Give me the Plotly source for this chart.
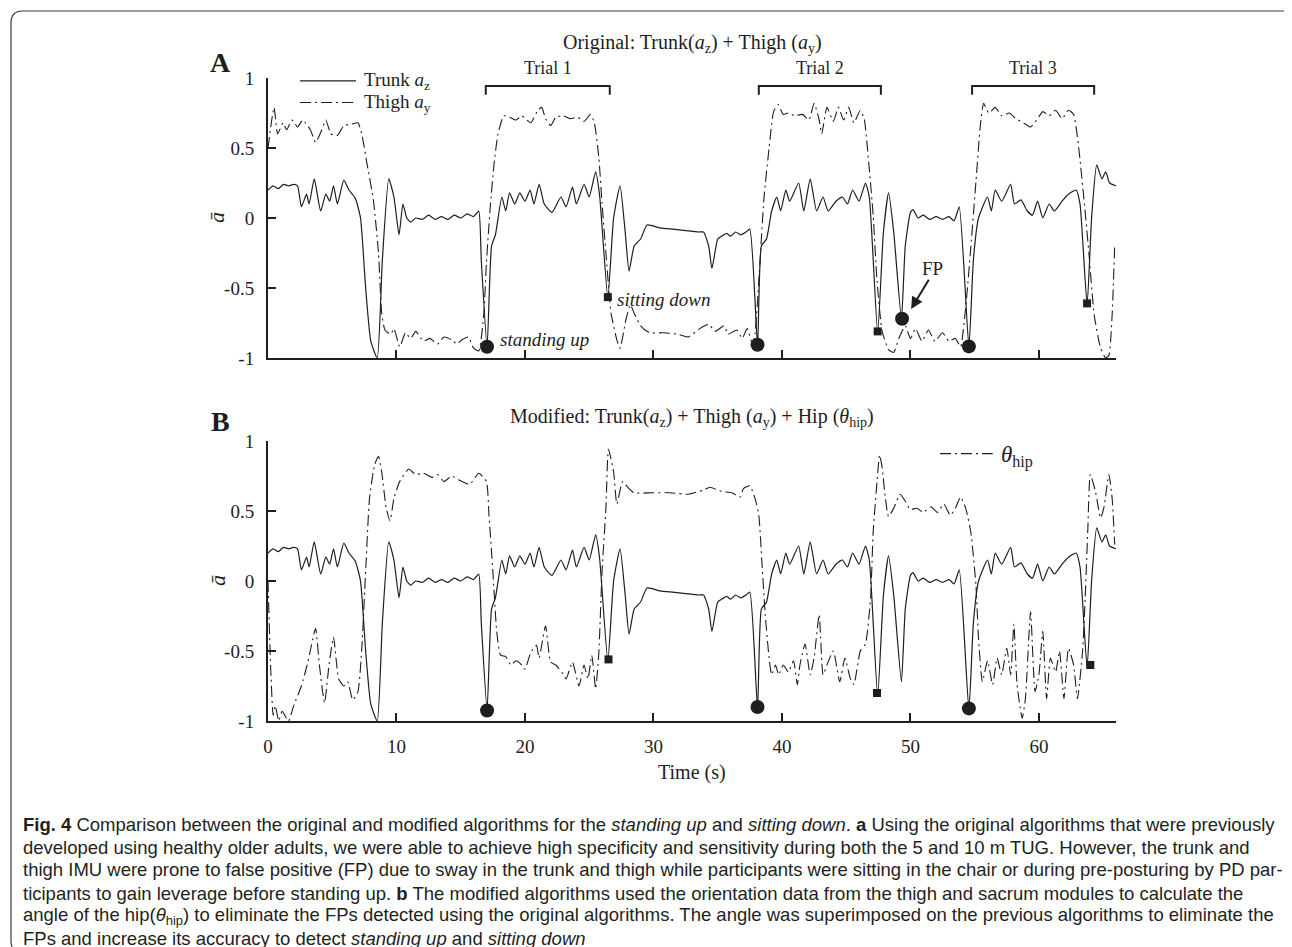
import plotly.graph_objects as go

# ---------------- data ----------------
trunk_t = [0, 0.4, 0.8, 1.2, 1.6, 2.0, 2.3, 2.6, 3.0, 3.2, 3.6, 4.1, 4.5, 4.8, 5.1, 5.4, 5.9, 6.3, 6.8,
           7.2, 7.6, 8.0, 8.5, 8.9, 9.4, 9.8, 10.2, 10.5, 10.8, 11.1, 11.5, 12.0, 12.5, 13.0, 13.5, 14.0,
           14.5, 15.0, 15.5, 16.0, 16.4, 16.6, 17.05, 17.4, 17.7, 18.2, 18.5, 18.8, 19.2, 19.6, 20.0, 20.4,
           20.7, 21.1, 21.5, 22.1, 22.8, 23.2, 23.7, 24.0, 24.6, 25.0, 25.5, 25.8, 26.45, 26.9, 27.4, 27.8,
           28.1, 28.5, 29.0, 29.5, 30.5, 31.5, 32.5, 33.5, 33.9, 34.3, 34.55, 35.0, 35.3, 35.7, 36.0, 36.4,
           36.8, 37.2, 37.5, 38.1, 38.4, 38.8, 39.2, 39.6, 39.9, 40.3, 40.6, 41.3, 41.7, 42.2, 42.7, 43.2,
           43.6, 44.2, 44.7, 45.1, 45.5, 46.0, 46.5, 46.8, 47.45, 47.9, 48.3, 48.7, 49.3, 49.6, 50.0, 50.2,
           50.6, 51.0, 51.5, 52.0, 52.5, 53.0, 53.4, 53.8, 54.55, 54.9, 55.3, 56.0, 56.3, 56.6, 57.1, 57.8,
           58.1, 58.6, 59.1, 59.5, 59.9, 60.3, 60.8, 61.2, 61.8, 62.3, 62.9, 63.2, 63.75, 64.1, 64.5, 64.9,
           65.2, 65.5, 66.0]
trunk_v = [0.20, 0.23, 0.21, 0.24, 0.23, 0.24, 0.23, 0.08, 0.17, 0.10, 0.28, 0.05, 0.17, 0.12, 0.23, 0.10,
           0.27, 0.20, 0.14, 0.0, -0.5, -0.88, -1.0, -0.3, 0.28, 0.15, -0.12, 0.10, 0.0, -0.03, 0.0, -0.01,
           0.02, -0.01, 0.01, -0.01, 0.02, 0.0, 0.03, 0.01, 0.05, -0.3, -0.92, -0.2, -0.12, 0.15, 0.05,
           0.18, 0.10, 0.18, 0.12, 0.20, 0.10, 0.24, 0.10, 0.04, 0.15, 0.08, 0.22, 0.10, 0.24, 0.15, 0.33,
           0.17, -0.57, 0.0, 0.23, -0.1, -0.38, -0.2, -0.15, -0.05, -0.07, -0.08, -0.09, -0.10, -0.10, -0.2,
           -0.36, -0.15, -0.13, -0.11, -0.13, -0.10, -0.12, -0.10, -0.08, -0.91, -0.2, -0.15, 0.05, 0.15,
           0.05, 0.20, 0.12, 0.25, 0.05, 0.28, 0.05, 0.15, 0.05, 0.12, 0.15, 0.10, 0.20, 0.12, 0.25, 0.15,
           -0.82, -0.1, 0.18, -0.1, -0.72, -0.2, 0.04, 0.06, 0.0, 0.02, -0.01, 0.01, -0.01, 0.01, -0.02,
           0.08, -0.92, -0.3, 0.0, 0.15, 0.05, 0.20, 0.12, 0.24, 0.10, 0.13, 0.05, 0.02, 0.12, 0.0, 0.10,
           0.05, 0.12, 0.17, 0.20, 0.10, -0.62, 0.0, 0.38, 0.28, 0.33, 0.25, 0.23]

thigh_t = [0, 0.47, 0.75, 1.17, 1.45, 1.87, 2.3, 2.7, 3.3, 3.7, 4.1, 4.5, 4.9, 5.4, 5.9, 6.5, 7.0, 7.3,
           7.7, 8.2, 8.6, 8.85, 9.1, 9.55, 9.8, 10.25, 10.7, 11.1, 11.5, 12.1, 12.6, 13.2, 13.7, 14.3,
           14.7, 15.1, 15.6, 16.0, 16.4, 16.8, 17.0, 17.3, 17.6, 17.9, 18.35, 18.8, 19.3, 19.75, 20.45,
           21.0, 21.3, 21.6, 22.0, 22.4, 23.0, 23.5, 24.1, 24.6, 25.1, 25.4, 25.75, 26.0, 26.3, 26.7,
           27.15, 27.4, 27.85, 28.2, 28.5, 29.0, 29.7, 30.8, 31.9, 32.7, 33.6, 34.3, 34.8, 35.5, 35.8,
           36.5, 36.9, 37.3, 37.7, 37.9, 38.2, 38.6, 39.0, 39.35, 39.7, 40.1, 40.5, 41.0, 41.6, 42.1,
           42.5, 42.9, 43.1, 43.5, 44.0, 44.4, 44.8, 45.2, 45.6, 46.1, 46.4, 46.75, 47.1, 47.4, 47.8,
           48.3, 48.7, 49.1, 49.6, 50.0, 50.4, 50.9, 51.4, 51.9, 52.5, 53.0, 53.5, 53.9, 54.3, 54.7,
           55.1, 55.45, 55.7, 56.1, 56.6, 57.1, 57.7, 58.2, 58.8, 59.35, 59.9, 60.3, 60.8, 61.3, 61.8,
           62.3, 62.7, 63.1, 63.5, 63.9, 64.3, 64.8, 65.2, 65.45, 65.7, 65.9]
thigh_v = [0.5, 0.79, 0.6, 0.68, 0.63, 0.7, 0.65, 0.7, 0.63, 0.54, 0.61, 0.7, 0.6, 0.59, 0.66, 0.67,
           0.68, 0.6, 0.39, 0.13, -0.25, -0.68, -0.8, -0.83, -0.79, -0.92, -0.82, -0.86, -0.81, -0.88,
           -0.86, -0.9, -0.85, -0.87, -0.9, -0.87, -0.85, -0.93, -0.95, -0.68, -0.32, 0.08, 0.39, 0.6,
           0.73, 0.72, 0.7, 0.73, 0.68, 0.77, 0.79, 0.71, 0.66, 0.72, 0.73, 0.71, 0.72, 0.69, 0.74, 0.68,
           0.43, 0.1, -0.25, -0.68, -0.87, -0.93, -0.73, -0.62, -0.68, -0.77, -0.82, -0.82, -0.83, -0.85,
           -0.79, -0.76, -0.81, -0.77, -0.83, -0.8, -0.86, -0.79, -0.9, -0.83, -0.45, 0.14, 0.5, 0.76,
           0.81, 0.74, 0.75, 0.73, 0.74, 0.7, 0.82, 0.7, 0.6, 0.79, 0.69, 0.79, 0.7, 0.79, 0.68, 0.77,
           0.71, 0.4, 0.02, -0.45, -0.81, -0.94, -0.96, -0.86, -0.77, -0.86, -0.79, -0.88, -0.8, -0.88,
           -0.82, -0.88, -0.86, -0.92, -0.64, -0.21, 0.26, 0.67, 0.82, 0.75, 0.79, 0.73, 0.75, 0.71,
           0.68, 0.65, 0.71, 0.76, 0.73, 0.77, 0.71, 0.77, 0.74, 0.5, 0.14, -0.26, -0.69, -0.93, -1.0,
           -0.98, -0.69, -0.19]

hip_t = [0, 0.2, 0.4, 0.56, 0.84, 1.1, 1.6, 2.0, 2.6, 3.1, 3.7, 4.0, 4.4, 4.75, 5.1, 5.5, 5.9, 6.2,
         6.6, 7.0, 7.3, 7.6, 7.9, 8.3, 8.6, 8.85, 9.2, 9.5, 9.8, 10.25, 10.95, 11.5, 12.1, 12.8, 13.2,
         13.7, 14.3, 14.9, 15.7, 16.4, 17.0, 17.2, 17.5, 17.8, 18.1, 18.5, 18.9, 19.3, 19.75, 20.0,
         20.45, 20.9, 21.1, 21.6, 22.0, 22.4, 23.0, 23.2, 23.7, 24.2, 24.6, 24.9, 25.2, 25.5, 25.75,
         26.0, 26.3, 26.5, 26.9, 27.15, 27.6, 28.0, 28.5, 29.9, 31.3, 32.7, 33.9, 34.4, 35.3, 36.1,
         36.75, 37.0, 37.5, 37.9, 38.2, 38.45, 38.7, 39.0, 39.2, 39.5, 39.75, 40.1, 40.5, 40.9, 41.2,
         41.4, 41.8, 42.2, 42.5, 42.9, 43.2, 43.5, 44.0, 44.5, 44.9, 45.3, 45.6, 46.1, 46.5, 46.9,
         47.1, 47.4, 47.6, 47.8, 48.05, 48.3, 48.7, 49.2, 49.6, 50.0, 50.5, 51.0, 51.6, 52.1, 52.6,
         53.1, 53.5, 53.9, 54.3, 54.7, 55.1, 55.3, 55.6, 56.0, 56.4, 56.75, 57.1, 57.5, 57.8, 58.05,
         58.3, 58.7, 58.95, 59.35, 59.7, 60.0, 60.3, 60.6, 60.9, 61.3, 61.6, 61.95, 62.3, 62.7, 63.0,
         63.4, 63.6, 63.8, 64.0, 64.4, 64.8, 65.05, 65.45, 65.7, 65.9]
hip_v = [0.0, -0.6, -0.96, -0.89, -1.0, -0.93, -1.0, -0.89, -0.75, -0.58, -0.34, -0.6, -0.87, -0.6,
         -0.4, -0.7, -0.75, -0.72, -0.85, -0.79, -0.48, 0.07, 0.59, 0.83, 0.89, 0.78, 0.52, 0.43, 0.59,
         0.71, 0.8, 0.76, 0.77, 0.74, 0.76, 0.71, 0.75, 0.72, 0.69, 0.77, 0.71, 0.47, 0.07, -0.36, -0.53,
         -0.54, -0.6, -0.57, -0.6, -0.63, -0.51, -0.46, -0.55, -0.32, -0.58, -0.6, -0.67, -0.7, -0.58,
         -0.75, -0.6, -0.7, -0.53, -0.77, -0.51, 0.07, 0.52, 0.94, 0.78, 0.55, 0.71, 0.67, 0.63, 0.63,
         0.63, 0.62, 0.65, 0.67, 0.64, 0.63, 0.6, 0.66, 0.68, 0.59, 0.47, 0.12, -0.24, -0.55, -0.67,
         -0.6, -0.67, -0.6, -0.65, -0.57, -0.74, -0.6, -0.45, -0.67, -0.55, -0.24, -0.67, -0.6, -0.5,
         -0.72, -0.55, -0.69, -0.74, -0.5, -0.45, -0.12, 0.35, 0.71, 0.9, 0.81, 0.59, 0.46, 0.52, 0.62,
         0.57, 0.51, 0.52, 0.49, 0.53, 0.49, 0.55, 0.47, 0.52, 0.6, 0.52, 0.35, -0.03, -0.41, -0.72,
         -0.57, -0.74, -0.55, -0.67, -0.48, -0.67, -0.31, -0.74, -0.98, -0.84, -0.22, -0.79, -0.67,
         -0.36, -0.84, -0.55, -0.65, -0.5, -0.84, -0.48, -0.6, -0.84, -0.5, -0.12, 0.35, 0.76, 0.64,
         0.45, 0.52, 0.76, 0.59, 0.26]

# detected events
stand_t_A = [17.05, 38.1, 54.55]
stand_v_A = [-0.92, -0.905, -0.917]
sit_t_A = [26.45, 47.45, 63.75]
sit_v_A = [-0.565, -0.81, -0.61]
fp_t = [49.35]
fp_v = [-0.72]
stand_t_B = [17.05, 38.1, 54.55]
stand_v_B = [-0.925, -0.9, -0.91]
sit_t_B = [26.5, 47.4, 64.0]
sit_v_B = [-0.56, -0.8, -0.6]

trial_names = ["Trial 1", "Trial 2", "Trial 3"]
trial_start = [16.95, 38.2, 54.8]
trial_end = [26.6, 47.7, 64.3]

x_ticks = [0, 10, 20, 30, 40, 50, 60]
y_ticks = [-1, -0.5, 0, 0.5, 1]
y_tick_text = ["-1", "-0.5", "0", "0.5", "1"]

# ---------------- layout geometry (pixels) ----------------
W, H = 1292, 947
L, R, T, B = 260, 184, 70, 234
PW, PH = W - L - R, H - T - B


def px(xp):
    return (xp - L) / PW


def py(yp):
    return (H - B - yp) / PH


dom_A = [py(350), 1.0]
dom_B = [0.0, py(433)]

INK = "#1e1e1e"
SERIF = "Liberation Serif, Times New Roman, serif"
SANS = "Liberation Sans, Arial, sans-serif"
DASHDOT = "11px,4px,2px,4px"

fig = go.Figure()


def add_panel(xa, ya, second):
    fig.add_trace(go.Scatter(x=trunk_t, y=trunk_v, mode="lines", xaxis=xa, yaxis=ya,
                             line=dict(color=INK, width=1.2, shape="spline", smoothing=0.5),
                             showlegend=False, hoverinfo="skip"))
    yv = hip_v if second else thigh_v
    tv = hip_t if second else thigh_t
    fig.add_trace(go.Scatter(x=tv, y=yv, mode="lines", xaxis=xa, yaxis=ya,
                             line=dict(color=INK, width=1.1, dash=DASHDOT, shape="spline", smoothing=0.5),
                             showlegend=False, hoverinfo="skip"))
    st, sv = (stand_t_B, stand_v_B) if second else (stand_t_A, stand_v_A)
    qt, qv = (sit_t_B, sit_v_B) if second else (sit_t_A, sit_v_A)
    fig.add_trace(go.Scatter(x=st, y=sv, mode="markers", xaxis=xa, yaxis=ya, cliponaxis=False,
                             marker=dict(symbol="circle", size=14, color=INK), showlegend=False))
    fig.add_trace(go.Scatter(x=qt, y=qv, mode="markers", xaxis=xa, yaxis=ya, cliponaxis=False,
                             marker=dict(symbol="square", size=8, color=INK), showlegend=False))
    if not second:
        fig.add_trace(go.Scatter(x=fp_t, y=fp_v, mode="markers", xaxis=xa, yaxis=ya, cliponaxis=False,
                                 marker=dict(symbol="circle", size=14, color=INK), showlegend=False))


add_panel("x", "y", False)
add_panel("x2", "y2", True)

axis_common = dict(showline=True, linecolor=INK, linewidth=2, ticks="inside", ticklen=8,
                   tickwidth=2, tickcolor=INK, showgrid=False, zeroline=False,
                   tickfont=dict(family=SERIF, size=19, color=INK))

fig.update_layout(
    width=W, height=H,
    margin=dict(l=L, r=R, t=T, b=B),
    paper_bgcolor="white", plot_bgcolor="white",
    xaxis=dict(domain=[0, 1], anchor="y", range=[0, 66], tickvals=x_ticks[1:],
               showticklabels=False, **axis_common),
    yaxis=dict(domain=dom_A, anchor="x", range=[-1, 1], tickvals=y_ticks, ticktext=y_tick_text,
               ticklabelstandoff=8, **axis_common),
    xaxis2=dict(domain=[0, 1], anchor="y2", range=[0, 66], tickvals=x_ticks,
                ticklabelstandoff=7, **axis_common),
    yaxis2=dict(domain=dom_B, anchor="x2", range=[-1, 1], tickvals=y_ticks, ticktext=y_tick_text,
                ticklabelstandoff=8, **axis_common),
)

ann = []
shapes = []


def note(x, y, text, size, xref="paper", yref="paper", xanchor="center", family=SERIF, **kw):
    ann.append(dict(xref=xref, yref=yref, x=x, y=y, text=text, showarrow=False,
                    xanchor=xanchor, yanchor="middle",
                    font=dict(family=family, size=size, color=kw.pop("color", INK)), **kw))


# panel letters and titles
note(px(212), py(55), "<b>A</b>", 28)
note(px(212), py(413), "<b>B</b>", 28)
note(0.5, py(36), "Original: Trunk(<i>a</i><sub>z</sub>) + Thigh (<i>a</i><sub>y</sub>)", 20)
note(0.5, py(409),
     "Modified: Trunk(<i>a</i><sub>z</sub>) + Thigh (<i>a</i><sub>y</sub>) + Hip (<i>θ</i><sub>hip</sub>)", 20)

# y axis titles
for yc in (py(210), py(573)):
    note(px(209), yc, "<i>ā</i>", 22, textangle=-90)

# x axis title
note(0.5, py(764), "Time (s)", 20)

# legend A
shapes.append(dict(type="line", xref="x", yref="y", x0=2.5, x1=6.85, y0=0.98, y1=0.98,
                   line=dict(color=INK, width=1.2)))
shapes.append(dict(type="line", xref="x", yref="y", x0=2.5, x1=6.85, y0=0.825, y1=0.825,
                   line=dict(color=INK, width=1.2, dash=DASHDOT)))
note(7.3, 0.98, "Trunk <i>a</i><sub>z</sub>", 19, xref="x", yref="y", xanchor="left")
note(7.3, 0.825, "Thigh <i>a</i><sub>y</sub>", 19, xref="x", yref="y", xanchor="left")

# legend B
shapes.append(dict(type="line", xref="x2", yref="y2", x0=52.3, x1=56.4, y0=0.91, y1=0.91,
                   line=dict(color=INK, width=1.2, dash=DASHDOT)))
note(56.9, 0.89, "<i>θ</i><sub>hip</sub>", 23, xref="x2", yref="y2", xanchor="left")

# trial brackets
for name, a, b in zip(trial_names, trial_start, trial_end):
    shapes.append(dict(type="path", xref="x", yref="y",
                       path=f"M {a},0.88 L {a},0.943 L {b},0.943 L {b},0.88",
                       line=dict(color=INK, width=2)))
    note((a + b) / 2, py(60), name, 18, xref="x")

# event labels
note(17.9, -0.87, "<i>standing up</i>", 19, xref="x", yref="y", xanchor="left")
note(27.0, -0.58, "<i>sitting down</i>", 19, xref="x", yref="y", xanchor="left")
note(51.7, -0.36, "FP", 19, xref="x", yref="y")
ann.append(dict(xref="x", yref="y", x=50.05, y=-0.65, ax=51.5, ay=-0.43, axref="x", ayref="y",
                showarrow=True, arrowhead=2, arrowsize=1.2, arrowwidth=2, arrowcolor=INK, text=""))

# caption
cap = [
    "<b>Fig. 4</b> Comparison between the original and modified algorithms for the <i>standing up</i> and <i>sitting down</i>. <b>a</b> Using the original algorithms that were previously",
    "developed using healthy older adults, we were able to achieve high specificity and sensitivity during both the 5 and 10 m TUG. However, the trunk and",
    "thigh IMU were prone to false positive (FP) due to sway in the trunk and thigh while participants were sitting in the chair or during pre-posturing by PD par-",
    "ticipants to gain leverage before standing up. <b>b</b> The modified algorithms used the orientation data from the thigh and sacrum modules to calculate the",
    "angle of the hip(<i>θ</i><sub>hip</sub>) to eliminate the FPs detected using the original algorithms. The angle was superimposed on the previous algorithms to eliminate the",
    "FPs and increase its accuracy to detect <i>standing up</i> and <i>sitting down</i>",
]
cap_y = [816, 839, 862, 885, 908, 931]
for line, yy in zip(cap, cap_y):
    note(px(13), py(yy), line, 18.5, xanchor="left", family=SANS, color="#231f20")

# frame around figure
x0, x1, y0, y1, r = px(3), px(1289), py(3), py(945), 12
rx, ry = r / PW, r / PH
shapes.append(dict(type="path", xref="paper", yref="paper", layer="below",
                   path=(f"M {x0 + rx},{y0} L {x1 - rx},{y0} Q {x1},{y0} {x1},{y0 - ry} "
                         f"L {x1},{y1 + ry} Q {x1},{y1} {x1 - rx},{y1} L {x0 + rx},{y1} "
                         f"Q {x0},{y1} {x0},{y1 + ry} L {x0},{y0 - ry} Q {x0},{y0} {x0 + rx},{y0} Z"),
                   line=dict(color="#3a3a3a", width=1.2)))

fig.update_layout(annotations=ann, shapes=shapes)
fig.write_html("out.html")
